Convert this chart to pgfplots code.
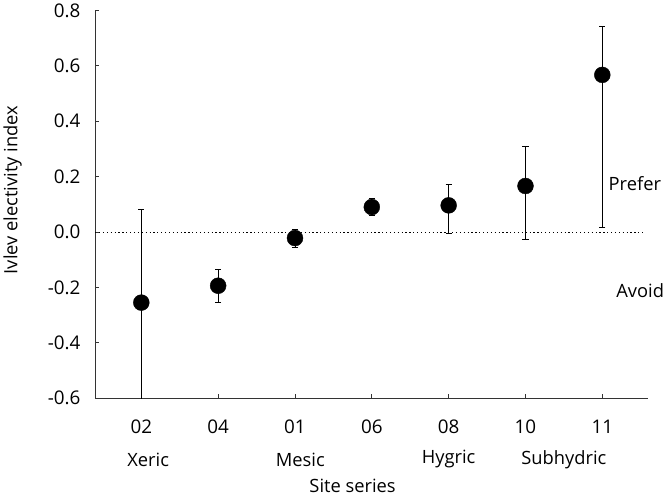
\documentclass[border=0pt]{standalone}
\usepackage{pgfplots}
\pgfplotsset{compat=1.18}
\usepackage{fontspec}
\setmainfont{Open Sans}
\begin{document}
\begin{tikzpicture}
\begin{axis}[
  scale only axis,
  width=542bp, height=380bp,
  xmin=-0.6, xmax=6.6,
  ymin=-0.6, ymax=0.8,
  axis x line*=bottom, axis y line*=left,
  axis line style={draw=black!80, line width=0.9bp, -},
  tick style={draw=black!80, line width=0.9bp},
  tick align=inside,
  major tick length=4bp,
  xtick={0,1,2,3,4,5,6},
  xticklabels={02,04,01,06,08,10,11},
  ytick={-0.6,-0.4,-0.2,0,0.2,0.4,0.6,0.8},
  /pgf/number format/fixed,
  /pgf/number format/fixed zerofill,
  /pgf/number format/precision=1,
  /pgf/number format/assume math mode=true,
  xticklabel style={yshift=-18bp},
  yticklabel style={xshift=-11bp},
  ticklabel style={font=\fontsize{18.5}{21}\selectfont},
  clip mode=individual,
]
\addplot[black, line width=0.6bp, dash pattern=on 1.2bp off 2.6bp] coordinates {(-0.6,0) (6.56,0)};
\addplot[only marks, mark=*, mark size=7.8bp, black,
  error bars/.cd, y dir=both, y explicit,
  error mark=-, error mark options={rotate=90, mark size=3bp, line width=0.9bp, black},
  error bar style={line width=0.9bp, black}]
coordinates {
  (0,-0.255) += (0,0.337) -= (0,0.5)
  (1,-0.194) += (0,0.058) -= (0,0.060)
  (2,-0.022) += (0,0.030) -= (0,0.033)
  (3,0.090) += (0,0.030) -= (0,0.032)
  (4,0.096) += (0,0.075) -= (0,0.100)
  (5,0.166) += (0,0.142) -= (0,0.193)
  (6,0.567) += (0,0.175) -= (0,0.549)
};
\begin{scope}[font=\fontsize{18}{21}\selectfont]
\node[rotate=90] at ([xshift=-81bp]axis description cs:0,0.537) {Ivlev electivity index};
\node at (axis cs:0.09,-0.6) [yshift=-60bp] {Xeric};
\node at (axis cs:2.07,-0.6) [yshift=-60bp] {Mesic};
\node at (axis cs:4.0,-0.6) [yshift=-60bp] {Hygric};
\node at (axis cs:5.5,-0.6) [yshift=-60bp] {Subhydric};
\node at (axis cs:2.75,-0.6) [yshift=-86bp] {Site series};
\node[anchor=west, inner sep=0] at (axis cs:6.08,0.173) {Prefer};
\node[anchor=west, inner sep=0] at (axis cs:6.18,-0.213) {Avoid};
\end{scope}
\end{axis}
\end{tikzpicture}
\end{document}
